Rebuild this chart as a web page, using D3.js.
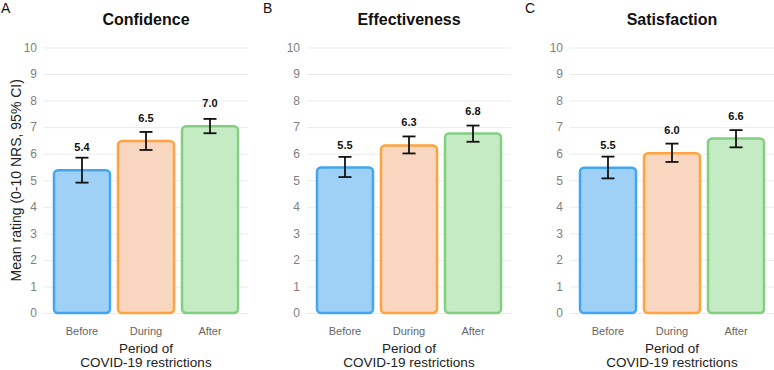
<!DOCTYPE html>
<html>
<head>
<meta charset="utf-8">
<script src="https://cdn.jsdelivr.net/npm/d3@7"></script>
<style>
  body { margin: 0; background: #fff; }
  svg { font-family: "Liberation Sans", Arial, sans-serif; }
</style>
</head>
<body>
<script>
// data
const periods = ["Before", "During", "After"];
const panelTitles = ["Confidence", "Effectiveness", "Satisfaction"];
const panelLetters = ["A", "B", "C"];
const yTicks = [0, 1, 2, 3, 4, 5, 6, 7, 8, 9, 10];

const confidenceMean = [5.38, 6.48, 7.03];
const confidenceLow = [4.91, 6.14, 6.77];
const confidenceHigh = [5.85, 6.82, 7.31];

const effectivenessMean = [5.48, 6.31, 6.76];
const effectivenessLow = [5.12, 6.01, 6.45];
const effectivenessHigh = [5.88, 6.65, 7.06];

const satisfactionMean = [5.47, 6.02, 6.57];
const satisfactionLow = [5.07, 5.69, 6.24];
const satisfactionHigh = [5.89, 6.38, 6.89];

const panels = [
  { mean: confidenceMean, low: confidenceLow, high: confidenceHigh },
  { mean: effectivenessMean, low: effectivenessLow, high: effectivenessHigh },
  { mean: satisfactionMean, low: satisfactionLow, high: satisfactionHigh }
];

const fills = ["#9fd1f7", "#f8d6c0", "#c4ebc4"];
const strokes = ["#42a5f0", "#ffa33e", "#82cf82"];

const W = 774, H = 370;
const plotW = 204;
const plotTop = 47.5, plotBottom = 313;

const svg = d3.select("body").append("svg")
    .attr("width", W)
    .attr("height", H);

const y = d3.scaleLinear().domain([0, 10]).range([plotBottom, plotTop]);

panels.forEach((p, i) => {
  const x0 = 44 + i * 263;
  const g = svg.append("g").attr("transform", `translate(${x0},0)`);

  const x = d3.scaleBand()
      .domain(periods)
      .range([0, plotW])
      .paddingInner(0.125)
      .paddingOuter(0.156);

  // y axis + gridlines
  const gy = g.append("g")
      .call(d3.axisLeft(y).tickValues(yTicks).tickSizeInner(-plotW).tickSizeOuter(0).tickPadding(7));
  gy.select(".domain").remove();
  gy.selectAll("line").attr("stroke", "#ebebeb");
  gy.selectAll("text").attr("fill", "#7f7f7f").style("font-size", "12px");

  // x axis
  const gx = g.append("g")
      .attr("transform", `translate(0,${plotBottom})`)
      .call(d3.axisBottom(x).tickSize(0).tickPadding(14));
  gx.select(".domain").remove();
  gx.selectAll("text").attr("fill", "#666").style("font-size", "11px");

  // bars
  g.selectAll("rect.bar")
    .data(periods)
    .enter().append("rect")
      .attr("class", "bar")
      .attr("x", d => x(d))
      .attr("width", x.bandwidth())
      .attr("y", (d, j) => y(p.mean[j]))
      .attr("height", (d, j) => y(0) - y(p.mean[j]))
      .attr("rx", 4)
      .attr("fill", (d, j) => fills[j])
      .attr("stroke", (d, j) => strokes[j])
      .attr("stroke-width", 2.5);

  // error bars
  const eb = g.selectAll("g.err")
    .data(periods)
    .enter().append("g")
      .attr("class", "err")
      .attr("stroke", "#111")
      .attr("stroke-width", 1.8);
  eb.append("line")
      .attr("x1", d => x(d) + x.bandwidth() / 2)
      .attr("x2", d => x(d) + x.bandwidth() / 2)
      .attr("y1", (d, j) => y(p.low[j]))
      .attr("y2", (d, j) => y(p.high[j]));
  [p.low, p.high].forEach(arr => {
    eb.append("line")
        .attr("x1", d => x(d) + x.bandwidth() / 2 - 6.5)
        .attr("x2", d => x(d) + x.bandwidth() / 2 + 6.5)
        .attr("y1", (d, j) => y(arr[j]))
        .attr("y2", (d, j) => y(arr[j]));
  });

  // value labels
  g.selectAll("text.val")
    .data(periods)
    .enter().append("text")
      .attr("class", "val")
      .attr("x", d => x(d) + x.bandwidth() / 2)
      .attr("y", (d, j) => y(p.mean[j]) - 19)
      .attr("text-anchor", "middle")
      .style("font-size", "11px")
      .style("font-weight", "bold")
      .attr("fill", "#111")
      .text((d, j) => p.mean[j].toFixed(1));

  // title
  g.append("text")
      .attr("x", plotW / 2)
      .attr("y", 25)
      .attr("text-anchor", "middle")
      .style("font-size", "16px")
      .style("font-weight", "bold")
      .attr("fill", "#111")
      .text(panelTitles[i]);

  // x axis title
  const xt = g.append("text")
      .attr("text-anchor", "middle")
      .style("font-size", "13.5px")
      .attr("fill", "#222");
  xt.append("tspan").attr("x", plotW / 2).attr("y", 353).text("Period of");
  xt.append("tspan").attr("x", plotW / 2).attr("y", 367).text("COVID-19 restrictions");

  // panel letter
  svg.append("text")
      .attr("x", 1 + i * 262)
      .attr("y", 13)
      .style("font-size", "14px")
      .attr("fill", "#111")
      .text(panelLetters[i]);
});

// y axis title (panel A only)
svg.append("text")
    .attr("transform", `translate(21,${(plotTop + plotBottom) / 2}) rotate(-90)`)
    .attr("text-anchor", "middle")
    .style("font-size", "14px")
    .attr("fill", "#222")
    .text("Mean rating (0-10 NRS, 95% CI)");
</script>
</body>
</html>
